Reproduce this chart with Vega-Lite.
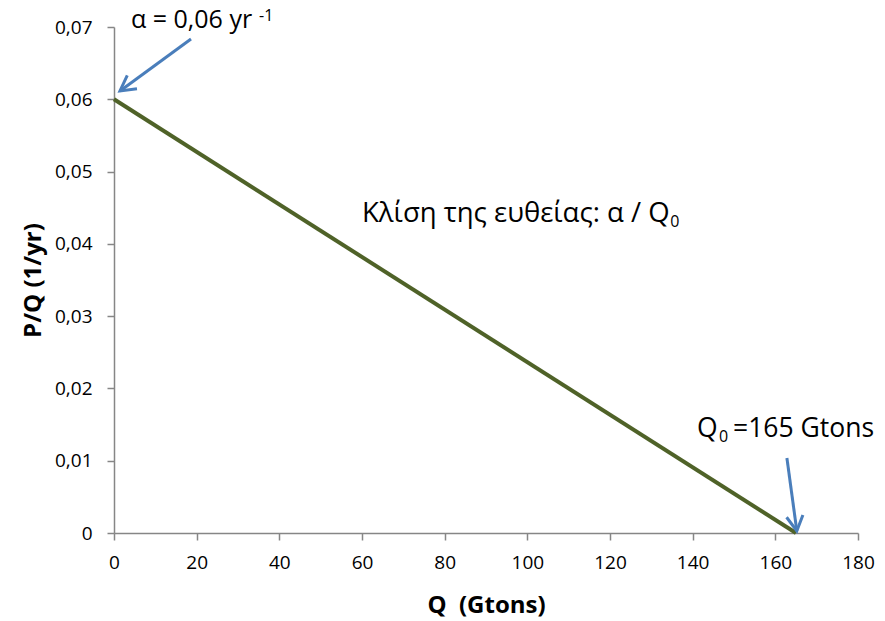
{
  "$schema": "https://vega.github.io/schema/vega-lite/v6.json",
  "width": 744,
  "height": 506,
  "autosize": "none",
  "padding": {"left": 114, "top": 27, "right": 27, "bottom": 88},
  "background": "white",
  "config": {"view": {"stroke": null}, "font": "Open Sans"},
  "datasets": {
    "line": [{"Q": 0, "PQ": 0.06}, {"Q": 165, "PQ": 0}],
    "arrows": [
      {"id": "a", "Q": 18.63, "PQ": 0.06834, "Q2": 1.45, "PQ2": 0.06115},
      {"id": "b", "Q": 162.8, "PQ": 0.01038, "Q2": 165.2, "PQ2": 0.00028}
    ],
    "alphatext": [
      {"Q": 4.11, "PQ": 0.06986, "label": "α = 0,06 yr"}
    ],
    "greektext": [
      {"Q": 60.0, "PQ": 0.04302, "label": "Κλίση της ευθείας: α / Q"}
    ],
    "bigtext": [
      {"Q": 141.05, "PQ": 0.01328, "label": "Q"},
      {"Q": 149.76, "PQ": 0.01328, "label": "=165 Gtons"}
    ],
    "smalltext": [
      {"Q": 35.08, "PQ": 0.07083, "label": "-1"},
      {"Q": 134.6, "PQ": 0.04233, "label": "0"},
      {"Q": 146.4, "PQ": 0.01259, "label": "0"}
    ]
  },
  "layer": [
    {
      "data": {"name": "line"},
      "mark": {"type": "line", "color": "#4F6228", "strokeWidth": 4, "clip": false},
      "encoding": {
        "x": {
          "field": "Q", "type": "quantitative",
          "scale": {"domain": [0, 180], "nice": false, "zero": false},
          "axis": {
            "title": "Q\u00a0 (Gtons)", "values": [0, 20, 40, 60, 80, 100, 120, 140, 160, 180],
            "grid": false, "domainColor": "#868686", "tickColor": "#868686", "tickSize": 7,
            "domainWidth": 1.5, "tickWidth": 1.5,
            "labelFontSize": 19, "labelColor": "#000000", "labelPadding": 13, "labelFlush": false,
            "titleFontSize": 24, "titleFontWeight": "bold", "titleColor": "#000000", "titlePadding": 21
          }
        },
        "y": {
          "field": "PQ", "type": "quantitative",
          "scale": {"domain": [0, 0.07], "nice": false, "zero": false},
          "axis": {
            "title": "P/Q (1/yr)", "values": [0, 0.01, 0.02, 0.03, 0.04, 0.05, 0.06, 0.07],
            "labelExpr": "datum.value == 0 ? '0' : replace(format(datum.value, '.2f'), '.', ',')",
            "grid": false, "domainColor": "#868686", "tickColor": "#868686", "tickSize": 7,
            "domainWidth": 1.5, "tickWidth": 1.5,
            "labelFontSize": 19, "labelColor": "#000000", "labelPadding": 15, "labelFlush": false,
            "titleFontSize": 24, "titleFontWeight": "bold", "titleColor": "#000000", "titlePadding": 9
          }
        }
      }
    },
    {
      "data": {"name": "arrows"},
      "mark": {"type": "rule", "color": "#4A7EBB", "strokeWidth": 3, "clip": false},
      "encoding": {
        "x": {"field": "Q", "type": "quantitative"},
        "y": {"field": "PQ", "type": "quantitative"},
        "x2": {"field": "Q2"},
        "y2": {"field": "PQ2"}
      }
    },
    {
      "data": {"name": "arrows"},
      "transform": [{"filter": "datum.id == 'a'"}],
      "mark": {"type": "point", "shape": "M -0.55 1 L 0 0 L 0.55 1", "filled": false, "stroke": "#4A7EBB", "strokeWidth": 3, "size": 900, "angle": 234, "opacity": 1, "clip": false},
      "encoding": {
        "x": {"field": "Q2", "type": "quantitative"},
        "y": {"field": "PQ2", "type": "quantitative"}
      }
    },
    {
      "data": {"name": "arrows"},
      "transform": [{"filter": "datum.id == 'b'"}],
      "mark": {"type": "point", "shape": "M -0.55 1 L 0 0 L 0.55 1", "filled": false, "stroke": "#4A7EBB", "strokeWidth": 3, "size": 900, "angle": 172, "opacity": 1, "clip": false},
      "encoding": {
        "x": {"field": "Q2", "type": "quantitative"},
        "y": {"field": "PQ2", "type": "quantitative"}
      }
    },
    {
      "data": {"name": "alphatext"},
      "mark": {"type": "text", "align": "left", "baseline": "alphabetic", "fontSize": 25, "color": "#000000", "clip": false},
      "encoding": {
        "x": {"field": "Q", "type": "quantitative"},
        "y": {"field": "PQ", "type": "quantitative"},
        "text": {"field": "label"}
      }
    },
    {
      "data": {"name": "greektext"},
      "mark": {"type": "text", "align": "left", "baseline": "alphabetic", "fontSize": 27.5, "color": "#000000", "clip": false},
      "encoding": {
        "x": {"field": "Q", "type": "quantitative"},
        "y": {"field": "PQ", "type": "quantitative"},
        "text": {"field": "label"}
      }
    },
    {
      "data": {"name": "bigtext"},
      "mark": {"type": "text", "align": "left", "baseline": "alphabetic", "fontSize": 26.5, "color": "#000000", "clip": false},
      "encoding": {
        "x": {"field": "Q", "type": "quantitative"},
        "y": {"field": "PQ", "type": "quantitative"},
        "text": {"field": "label"}
      }
    },
    {
      "data": {"name": "smalltext"},
      "mark": {"type": "text", "align": "left", "baseline": "alphabetic", "fontSize": 16, "color": "#000000", "clip": false},
      "encoding": {
        "x": {"field": "Q", "type": "quantitative"},
        "y": {"field": "PQ", "type": "quantitative"},
        "text": {"field": "label"}
      }
    }
  ]
}
